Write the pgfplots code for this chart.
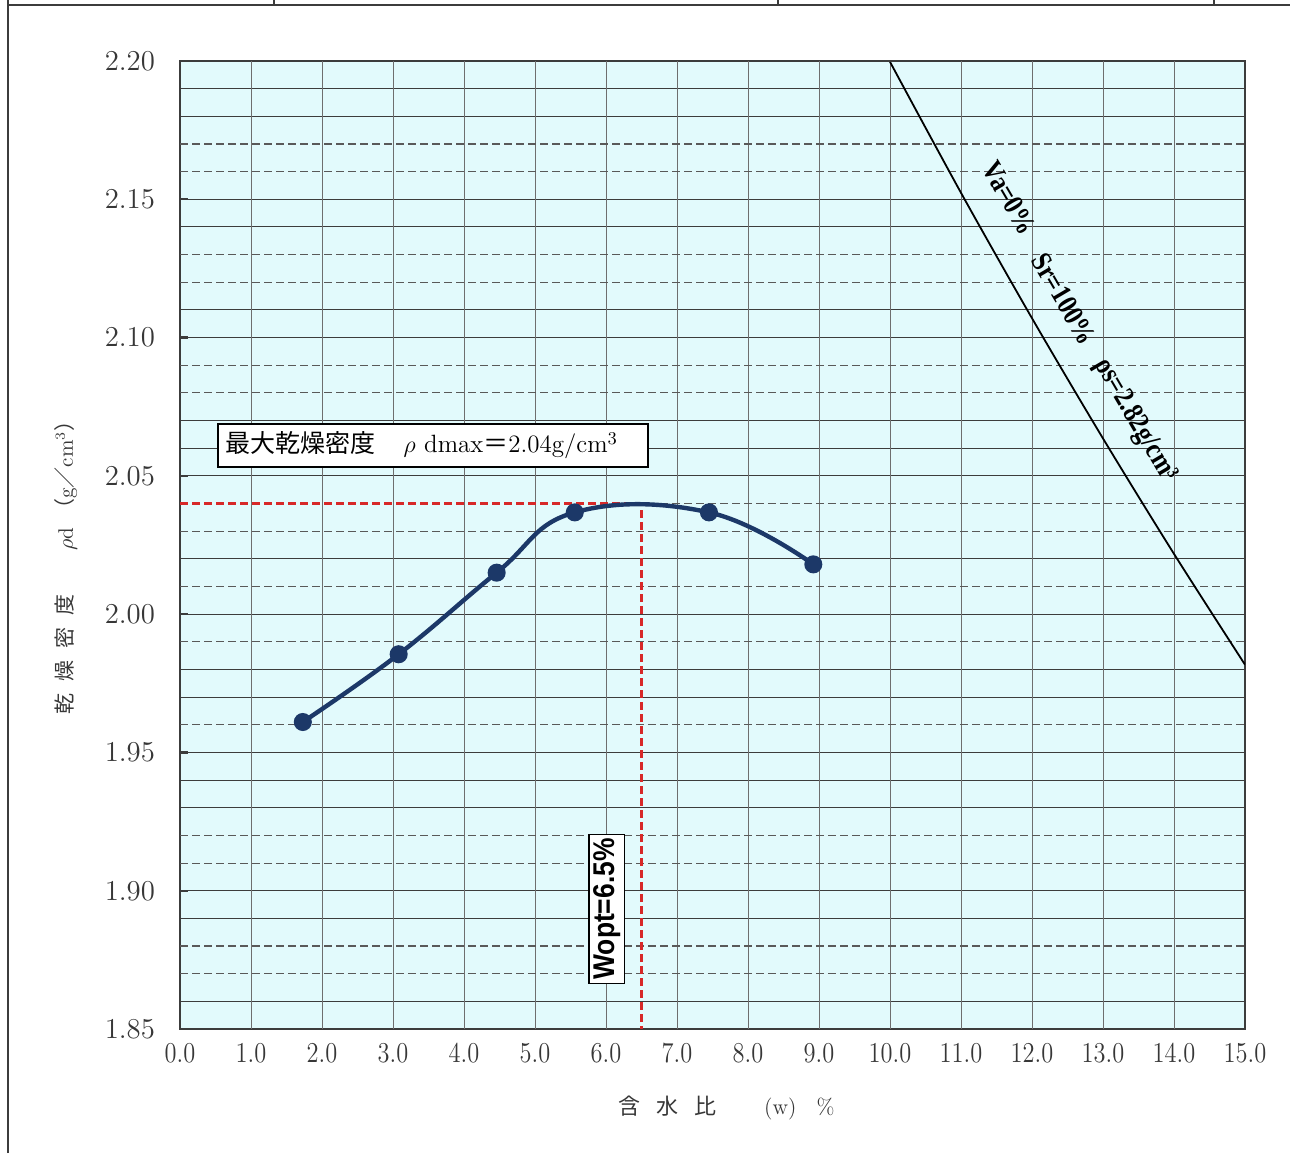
\documentclass[border=0pt]{standalone}
\usepackage{pgfplots}
\pgfplotsset{compat=1.18}
\usepackage{fontspec}
\newfontfamily\cjk{Noto Sans CJK JP}
\newfontfamily\lsb{Liberation Sans}
\newfontfamily\lsr{Liberation Serif}
\definecolor{bgc}{RGB}{226,250,252}
\definecolor{navy}{RGB}{28,56,104}
\definecolor{gridc}{RGB}{60,60,60}
\definecolor{vgrid}{RGB}{110,110,110}
\definecolor{txt}{RGB}{55,55,55}
\definecolor{redd}{RGB}{215,40,40}
\begin{document}
\begin{tikzpicture}
\useasboundingbox (0,0) rectangle (647pt,576.5pt);
\draw[line width=0.8pt, gridc] (4pt,0) -- (4pt,576.5pt);
\draw[line width=1.2pt, gridc] (4pt,574pt) -- (645pt,574pt);
\draw[line width=0.8pt, gridc] (137pt,574pt) -- (137pt,576.5pt);
\draw[line width=0.8pt, gridc] (389pt,574pt) -- (389pt,576.5pt);
\draw[line width=0.8pt, gridc] (607pt,574pt) -- (607pt,576.5pt);
\begin{axis}[
  at={(90pt,62pt)}, anchor=south west,
  scale only axis, width=532.5pt, height=484pt,
  xmin=0, xmax=15, ymin=1.85, ymax=2.20,
  axis background/.style={fill=bgc},
  axis line style={line width=1.1pt, gridc},
  xtick={0,1,2,3,4,5,6,7,8,9,10,11,12,13,14,15},
  ytick={1.85,1.90,1.95,2.00,2.05,2.10,2.15,2.20},
  minor ytick={1.86,1.89,1.93,1.94,1.97,1.98,2.02,2.06,2.07,2.11,2.14,2.18,2.19},
  ymajorgrids, yminorgrids,
  major grid style={gridc, line width=0.55pt},
  minor grid style={gridc, line width=0.55pt},
  extra y ticks={1.87,1.88,1.91,1.92,1.96,1.99,2.01,2.03,2.04,2.08,2.09,2.12,2.13,2.16,2.17},
  extra y tick labels={},
  extra y tick style={grid=major, major grid style={gridc!85, dash pattern=on 4pt off 2pt, line width=0.55pt}, major tick length=0pt},
  extra x ticks={1,2,3,4,5,6,7,8,9,10,11,12,13,14},
  extra x tick labels={},
  extra x tick style={grid=major, major grid style={vgrid, line width=0.5pt}, major tick length=0pt},
  xtick style={draw=none},
  ytick style={gridc, line width=1.2pt},
  ytick pos=left,
  tick align=inside,
  major tick length=4pt,
  minor tick length=0pt,
  xticklabel style={font=\fontsize{14}{16}\selectfont, text=txt, xscale=0.85, yshift=-4pt},
  yticklabel style={font=\fontsize{14}{16}\selectfont, text=txt, xshift=-9pt},
  x tick label style={/pgf/number format/.cd, fixed, fixed zerofill, precision=1},
  y tick label style={/pgf/number format/.cd, fixed, fixed zerofill, precision=2},
  xlabel={{\cjk 含\hspace{8pt}水\hspace{8pt}比}\hspace{24pt}(w)\hspace{10pt}\%},
  xlabel style={at={(axis description cs:0.513,-0.0816)}, anchor=center, font=\fontsize{11}{12}\selectfont, text=txt},
  ylabel={{\cjk 乾\hspace{6pt}燥\hspace{6pt}密\hspace{6pt}度}\hspace{22pt}$\rho$d\hspace{4pt}{\cjk （}g{\cjk ／}cm$^3${\cjk ）}},
  ylabel style={at={(axis description cs:-0.107,0.482)}, anchor=center, font=\fontsize{10.5}{12}\selectfont, text=txt},
  clip=true,
]
\addplot[redd, dash pattern=on 4pt off 2pt, line width=1.1pt] coordinates {(0,2.04) (6.5,2.04) (6.5,1.85)};
\addplot[black, line width=0.9pt, smooth] coordinates {(10,2.19969) (11,2.15234) (12,2.10699) (13,2.06352) (14,2.02179) (15,1.98173)};
\addplot[navy, line width=2.2pt, smooth, tension=0.7, mark=*, mark size=3.4pt, mark options={fill=navy}] coordinates {(1.73,1.961) (3.08,1.9855) (4.46,2.015) (5.56,2.0368) (7.45,2.0368) (8.92,2.018)};
\node[draw=black, fill=white, line width=0.8pt, inner sep=4pt, anchor=west, text width=207pt, align=left, minimum height=17pt, font=\fontsize{12.5}{13}\selectfont] at (axis cs:0.52,2.061) {{\cjk 最大乾燥密度}\hspace{14pt}$\rho$ dmax{\cjk ＝}2.04g/cm$^3$};
\node[draw=black, fill=white, line width=0.8pt, rotate=90, inner sep=2pt, font=\lsb\bfseries\fontsize{15}{15}\selectfont] at (axis cs:6.01,1.8934) {\scalebox{0.88}[1]{Wopt=6.5\%}};
\node[rotate=-59.5, inner sep=0pt, font=\lsr\bfseries\fontsize{14.5}{14.5}\selectfont] at (axis cs:11.68,2.1505) {\scalebox{0.85}[1]{Va=0\%}};
\node[rotate=-59.5, inner sep=0pt, font=\lsr\bfseries\fontsize{14.5}{14.5}\selectfont] at (axis cs:12.45,2.1140) {\scalebox{0.85}[1]{Sr=100\%}};
\node[rotate=-59.5, inner sep=0pt, font=\lsr\bfseries\fontsize{14.5}{14.5}\selectfont] at (axis cs:13.45,2.0700) {\scalebox{0.85}[1]{ρs=2.82g/cm³}};
\end{axis}
\end{tikzpicture}
\end{document}
